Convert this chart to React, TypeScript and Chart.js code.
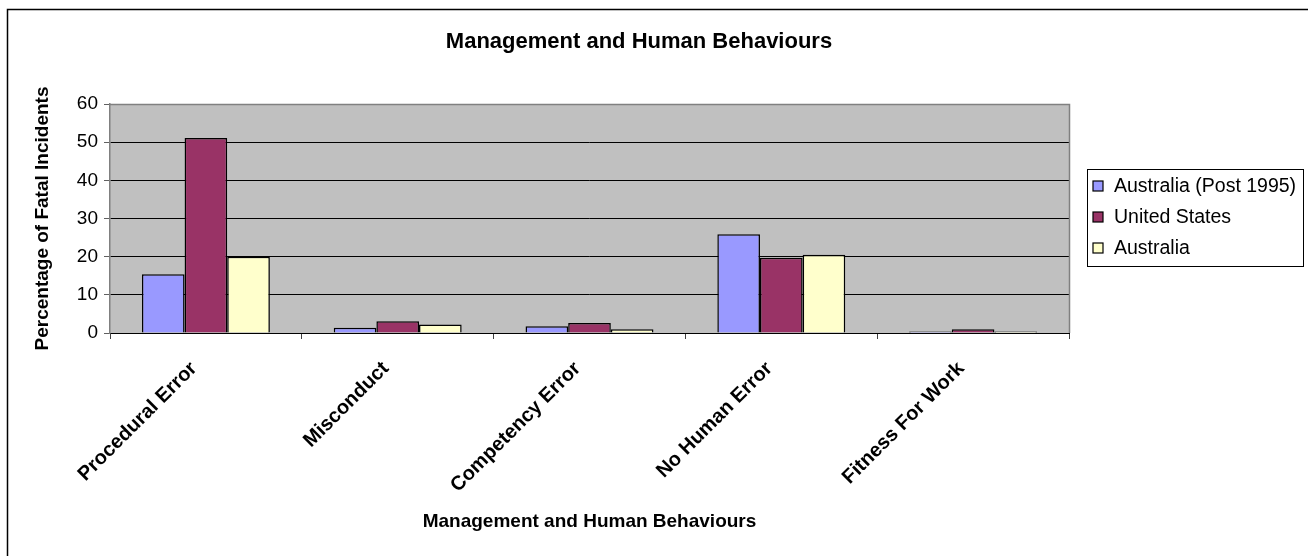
import React, { useEffect, useRef } from 'react';
import { Chart, registerables } from 'chart.js';

Chart.register(...registerables);

const categories = ['Procedural Error', 'Misconduct', 'Competency Error', 'No Human Error', 'Fitness For Work'];
const australiaPost1995 = [15.4, 1.4, 1.8, 25.9, 0.4];
const unitedStates = [51.1, 3.1, 2.6, 19.7, 1.0];
const australia = [20.0, 2.2, 1.0, 20.5, 0.4];
const seriesNames = ['Australia (Post 1995)', 'United States', 'Australia'];
const seriesColors = ['#9999FF', '#993366', '#FFFFCC'];
const yMin = 0;
const yMax = 60;
const yStep = 10;
const chartTitle = 'Management and Human Behaviours';
const xTitle = 'Management and Human Behaviours';
const yTitle = 'Percentage of Fatal Incidents';

const FONT = 'Arial, "Liberation Sans", sans-serif';

const framePlugin = {
  id: 'framePlugin',
  beforeDraw(chart: any) {
    const { ctx, chartArea } = chart;
    ctx.save();
    ctx.fillStyle = '#FFFFFF';
    ctx.fillRect(0, 0, chart.width, chart.height);
    ctx.fillStyle = '#C0C0C0';
    ctx.fillRect(chartArea.left, chartArea.top, chartArea.right - chartArea.left, chartArea.bottom - chartArea.top);
    ctx.strokeStyle = '#000000';
    ctx.lineWidth = 1.5;
    ctx.strokeRect(7.5, 9.5, 1400, 700);
    ctx.restore();
  },
  afterDraw(chart: any) {
    const { ctx, chartArea } = chart;
    ctx.save();
    ctx.strokeStyle = '#808080';
    ctx.lineWidth = 1.5;
    ctx.beginPath();
    ctx.moveTo(chartArea.left, chartArea.top + 0.5);
    ctx.lineTo(chartArea.right + 0.5, chartArea.top + 0.5);
    ctx.lineTo(chartArea.right + 0.5, chartArea.bottom);
    ctx.stroke();
    ctx.fillStyle = '#000000';
    ctx.font = `bold 22px ${FONT}`;
    ctx.textAlign = 'center';
    ctx.textBaseline = 'middle';
    ctx.fillText(chartTitle, 639, 42);
    const lx = 1087.5, ly = 169.5, lw = 216, lh = 97;
    ctx.fillStyle = '#FFFFFF';
    ctx.fillRect(lx, ly, lw, lh);
    ctx.strokeStyle = '#000000';
    ctx.lineWidth = 1;
    ctx.strokeRect(lx, ly, lw, lh);
    const rows = [186, 217, 248];
    chart.data.datasets.forEach((ds: any, i: number) => {
      const y = rows[i];
      ctx.fillStyle = ds.backgroundColor;
      ctx.fillRect(1093, y - 5, 10, 10);
      ctx.strokeStyle = '#000000';
      ctx.lineWidth = 1.2;
      ctx.strokeRect(1093, y - 5, 10, 10);
      ctx.fillStyle = '#000000';
      ctx.font = `19.5px ${FONT}`;
      ctx.textAlign = 'left';
      ctx.textBaseline = 'middle';
      ctx.fillText(ds.label, 1114, y + 1);
    });
    ctx.restore();
  },
};

export default function App() {
  const ref = useRef<HTMLCanvasElement | null>(null);
  useEffect(() => {
    document.body.style.margin = '0';
    const canvas = ref.current;
    if (!canvas) return;
    const data = [australiaPost1995, unitedStates, australia];
    const chart = new Chart(canvas, {
      type: 'bar',
      data: {
        labels: categories,
        datasets: data.map((d, i) => ({
          label: seriesNames[i],
          data: d,
          backgroundColor: seriesColors[i],
          borderColor: '#000000',
          borderWidth: 1.5,
          categoryPercentage: 0.667,
          barPercentage: 1,
        })),
      },
      options: {
        animation: false,
        responsive: false,
        devicePixelRatio: 1,
        layout: { padding: { top: 104, right: 239, left: 0, bottom: 0 } },
        plugins: {
          legend: { display: false },
          title: { display: false },
          tooltip: { enabled: false },
        },
        scales: {
          x: {
            grid: { drawOnChartArea: false, tickLength: 6, color: '#404040', offset: true },
            border: { color: '#000000', width: 1 },
            ticks: {
              maxRotation: 45,
              minRotation: 45,
              color: '#000000',
              font: { family: FONT, size: 20, weight: 'bold' },
              padding: 18,
              labelOffset: -12,
            },
            title: {
              display: true,
              text: xTitle,
              color: '#000000',
              font: { family: FONT, size: 19, weight: 'bold' },
              padding: { top: 0, bottom: 23 },
            },
            afterFit(scale: any) {
              scale.height = 223;
            },
          },
          y: {
            min: yMin,
            max: yMax,
            ticks: {
              stepSize: yStep,
              color: '#000000',
              font: { family: FONT, size: 19 },
              padding: 6,
            },
            grid: {
              color: (c: any) => (c.tick && c.tick.value === yMax ? '#808080' : '#000000'),
              tickColor: '#606060',
              tickLength: 6,
              lineWidth: 1,
            },
            border: { color: '#808080', width: 1.5 },
            title: {
              display: true,
              text: yTitle,
              color: '#000000',
              font: { family: FONT, size: 19, weight: 'bold' },
              padding: { top: 31, bottom: 0 },
            },
            afterFit(scale: any) {
              scale.width = 110;
            },
          },
        },
      },
      plugins: [framePlugin],
    });
    return () => chart.destroy();
  }, []);
  return <canvas ref={ref} width={1308} height={556} style={{ display: 'block', width: 1308, height: 556 }} />;
}
